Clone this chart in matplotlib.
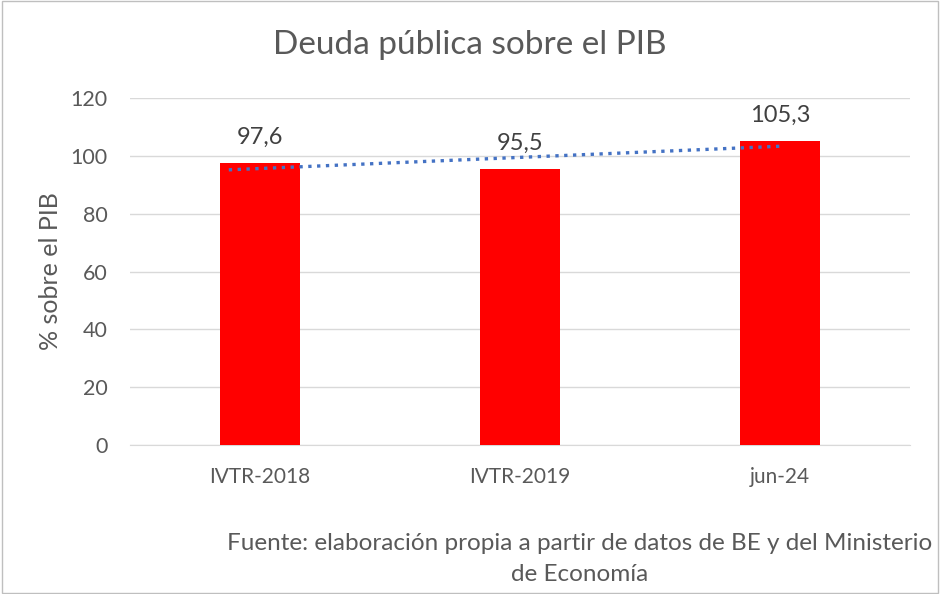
import matplotlib.pyplot as plt
import numpy as np
from matplotlib.patches import Rectangle

categories = ["IVTR-2018", "IVTR-2019", "jun-24"]
values = [97.6, 95.5, 105.3]
labels = ["97,6", "95,5", "105,3"]

plt.rcParams['font.family'] = ['Lato', 'DejaVu Sans']

fig = plt.figure(figsize=(9.4, 5.94), dpi=100)
ax = fig.add_axes([130 / 940, 1 - 445 / 594, 780 / 940, (445 - 98) / 594])

x = np.arange(len(categories))
ax.bar(x, values, width=0.31, color='#ff0000', zorder=3)

# linear trendline like excel
coef = np.polyfit(x, values, 1)
xt = np.array([x[0] - 0.12, x[-1]])
ax.plot(xt, np.polyval(coef, xt), linestyle=':', color='#4472c4', linewidth=2.4, zorder=4)

for xi, v, lab in zip(x, values, labels):
    ax.annotate(lab, (xi, v), xytext=(0, 13.5), textcoords='offset points',
                ha='center', va='baseline', fontsize=17, color='#404040', zorder=5)

ax.set_xlim(-0.5, 2.5)
ax.set_ylim(0, 120)
ax.set_yticks(range(0, 121, 20))
ax.set_xticks(x)
ax.set_xticklabels(categories)
ax.grid(axis='y', color='#d9d9d9', linewidth=1, zorder=0)
for s in ['top', 'right', 'left']:
    ax.spines[s].set_visible(False)
ax.spines['bottom'].set_color('#d9d9d9')
ax.tick_params(axis='y', length=0, labelsize=15.5, colors='#595959', pad=16)
ax.tick_params(axis='x', length=0, labelsize=15, colors='#595959', pad=16)
ax.set_ylabel('% sobre el PIB', fontsize=18, color='#595959')
ax.yaxis.set_label_coords(-(130 - 62) / 780, 0.5)

fig.text(0.5, 1 - 45 / 594, 'Deuda pública sobre el PIB', ha='center', va='center',
         fontsize=24, color='#595959')
fig.text(580 / 940, 1 - 559 / 594, 'Fuente: elaboración propia a partir de datos de BE y del Ministerio\nde Economía',
         ha='center', va='center', fontsize=17.5, color='#595959', linespacing=1.6)

fig.patches.append(Rectangle((0.002, 0.002), 0.996, 0.996, transform=fig.transFigure,
                             fill=False, edgecolor='#bfbfbf', linewidth=1))

fig.savefig('out.png', dpi=100)
